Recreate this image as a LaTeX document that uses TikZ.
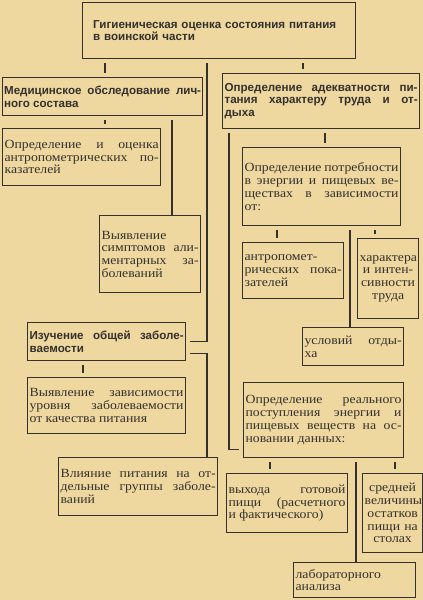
\documentclass[tikz,border=0pt]{standalone}
\usepackage{fontspec}
\setmainfont{Liberation Serif}[FakeStretch=1.1]
\newfontfamily\hdrfam{Liberation Sans}
\usepackage{xcolor}
\usepackage{tikz}
\usetikzlibrary{calc}
\definecolor{Paper}{RGB}{238,216,160}
\definecolor{Ink}{RGB}{52,48,45}
\hyphenpenalty=10000
\tolerance=10000
\newcommand\txtfont{\fontsize{12.5}{12.7}\selectfont}
\newcommand\hdrfont{\hdrfam\bfseries\fontsize{11.6}{12.7}\selectfont}
\tikzset{
  blk/.style={draw=Ink, line width=1.2pt, anchor=north west, inner xsep=2pt,
    inner ysep=1pt, align=justify, font=\txtfont, text=Ink},
  hdr/.style={blk, font=\hdrfont},
  link/.style={draw=Ink, line width=1.1pt, shorten <=4pt, shorten >=4pt}
}

\begin{document}
\begin{tikzpicture}[x=1pt, y=-1pt]
	\fill[Paper] (0,0) rectangle (423,600);
	\useasboundingbox (0,0) rectangle (423,600);
	
	% верхний блок
	\node[hdr, align=left, minimum width=273pt, minimum height=56pt, text width=252pt] (top) at (82,2)
		{Гигиеническая оценка состояния питания\\в воинской части};
	
	% левая ветвь
	\node[hdr, minimum width=200pt, minimum height=38pt, text width=197pt, inner xsep=1.5pt] (med) at (2,77)
		{Медицинское обследование лич-\linebreak ного состава};
	\node[blk, minimum width=158pt, minimum height=57pt, text width=154pt] (antrL) at (2,128)
		{Определение и оценка\linebreak антропометрических по-\linebreak казателей};
	\node[blk, minimum width=101pt, minimum height=77pt, text width=97pt] (sympt) at (99,215)
		{Выявление\linebreak симптомов али-\linebreak ментарных за-\linebreak болеваний};
	\node[hdr, minimum width=158pt, minimum height=38pt, text width=154pt] (izuch) at (27,322)
		{Изучение общей заболе-\linebreak ваемости};
	\node[blk, minimum width=158pt, minimum height=56pt, text width=154pt] (zavis) at (27,377)
		{Выявление зависимости\linebreak уровня заболеваемости\linebreak от качества питания};
	\node[blk, minimum width=159pt, minimum height=58pt, text width=155pt] (vliyan) at (58,457)
		{Влияние питания на от-\linebreak дельные группы заболе-\linebreak ваний};
	
	% правая ветвь
	\node[hdr, minimum width=197pt, minimum height=55pt, text width=193pt] (adek) at (222,73)
		{Определение адекватности пи-\linebreak тания характеру труда и от-\linebreak дыха};
	\node[blk, minimum width=158pt, minimum height=78pt, text width=154pt] (potreb) at (242,147)
		{Определение потребности\linebreak в энергии и пищевых ве-\linebreak ществах в зависимости\linebreak от:};
	\node[blk, minimum width=101pt, minimum height=56pt, text width=97pt] (antrR) at (242,242)
		{антропомет-\linebreak рических пока-\linebreak зателей};
	\node[blk, align=center, minimum width=61pt, minimum height=80pt, text width=57pt] (harakt) at (357,238)
		{характера\\и интен-\\сивности\\труда};
	\node[blk, minimum width=101pt, minimum height=38pt, text width=97pt] (uslov) at (302,327)
		{условий отды-\linebreak ха};
	\node[blk, minimum width=160pt, minimum height=75pt, text width=156pt] (realn) at (243,382)
		{Определение реального\linebreak поступления энергии и\linebreak пищевых веществ на ос-\linebreak новании данных:};
	\node[blk, minimum width=121pt, minimum height=59pt, text width=117pt] (vyhod) at (226,473)
		{выхода готовой\linebreak пищи (расчетного\linebreak и фактического)};
	\node[blk, align=center, minimum width=58pt, minimum height=79pt, text width=56pt] (sredn) at (362,473)
		{средней\\величины\\остатков\\пищи на\\столах};
	\node[blk, minimum width=122pt, minimum height=35pt, text width=118pt] (labor) at (293,562)
		{лабораторного\linebreak анализа};
	
	% абсциссы соединительных линий
	\coordinate (xMed) at (105,0);
	\coordinate (xAdek) at (303,0);
	\coordinate (xMain) at (207,0);
	\coordinate (xSympt) at (172,0);
	\coordinate (xZavis) at (83,0);
	\coordinate (xPotreb) at (325,0);
	\coordinate (xRealn) at (229,0);
	\coordinate (xAntr) at (277,0);
	\coordinate (xHar) at (375,0);
	\coordinate (xUsl) at (350,0);
	\coordinate (xVyh) at (270,0);
	\coordinate (xLab) at (356,0);
	\coordinate (xSred) at (395,0);
	
	% соединения
	\draw[link] (top.south -| xMed) -- (med.north -| xMed);
	\draw[link] (top.south -| xAdek) -- (adek.north -| xAdek);
	\draw[link] (top.south -| xMain) |- (izuch.east);
	\draw[link, shorten >=0pt] ([yshift=-12pt]izuch.east) -| (vliyan.north -| xMain);
	\draw[link] (med.south -| xMed) -- (antrL.north -| xMed);
	\draw[link, shorten >=0pt] (med.south -| xSympt) -- (sympt.north -| xSympt);
	\draw[link] (izuch.south -| xZavis) -- (zavis.north -| xZavis);
	\draw[link] (adek.south -| xPotreb) -- (potreb.north -| xPotreb);
	\draw[link] (adek.south -| xRealn) |- ([yshift=-29pt]realn.west);
	\draw[link] (potreb.south -| xAntr) -- (antrR.north -| xAntr);
	\draw[link] (potreb.south -| xHar) -- (harakt.north -| xHar);
	\draw[link, shorten >=0pt] (potreb.south -| xUsl) -- (uslov.north -| xUsl);
	\draw[link] (realn.south -| xVyh) -- (vyhod.north -| xVyh);
	\draw[link, shorten >=0pt] (realn.south -| xLab) -- (labor.north -| xLab);
	\draw[link] (realn.south -| xSred) -- (sredn.north -| xSred);
\end{tikzpicture}
\end{document}
